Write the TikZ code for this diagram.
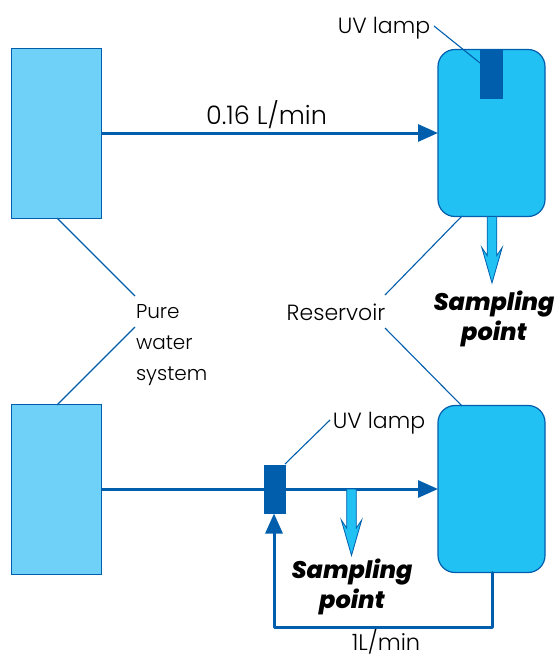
\documentclass[tikz,border=0pt]{standalone}
\usepackage{fontspec}
\setmainfont{Poppins Light}
\newfontfamily\boldf{Poppins}[BoldFont={Poppins ExtraBold},ItalicFont={Poppins Italic},BoldItalicFont={Poppins ExtraBold Italic}]
\usetikzlibrary{arrows.meta}
\definecolor{dk}{HTML}{005EAD}
\definecolor{tank}{HTML}{21C1F3}
\definecolor{src}{HTML}{6FD0F8}
\tikzset{
 srcbox/.style={draw=dk,line width=0.8pt,fill=src,minimum width=90pt,minimum height=170pt,inner sep=0,outer sep=0,rectangle},
 tankbox/.style={draw=dk,line width=1.2pt,fill=tank,rounded corners=17pt,minimum width=107pt,minimum height=167pt,inner sep=0,outer sep=0,rectangle},
 lamp/.style={fill=dk,inner sep=0,outer sep=0,rectangle},
 flow/.style={draw=dk,line width=3pt,-{Triangle[length=20pt,width=17pt,fill=dk]}},
 pipe/.style={draw=dk,line width=3pt},
 leader/.style={draw=dk,line width=1.1pt},
 lbl/.style={font=\fontsize{22}{30}\selectfont,text=black,inner sep=0,outer sep=0},
 samp/.style={font=\boldf\fontsize{24}{30}\selectfont\bfseries\itshape,align=center,inner sep=0,outer sep=0},
 sarrow/.style={draw=dk,line width=0.8pt,fill=tank},
}
\begin{document}
\begin{tikzpicture}[x=1pt,y=-1pt]
\useasboundingbox (0,0) rectangle (557,658);
\node[srcbox] (s1) at (56,133) {};
\node[srcbox] (s2) at (56,489.5) {};
\node[tankbox] (t1) at (491.5,133) {};
\node[tankbox] (t2) at (491.5,489) {};
\node[lamp,minimum width=23pt,minimum height=50pt] (l1) at (491.5,74.5) {};
\node[lamp,minimum width=22pt,minimum height=49pt] (l2) at (275,489) {};
\node[lbl] (uv1) at (384,28) {UV lamp};
\node[lbl] (uv2) at (379,423) {UV lamp};
\node[lbl,font=\fontsize{25.5}{30}\selectfont] (rate1) at (266.5,115) {0.16 L/min};
\node[lbl,font=\fontsize{22.5}{30}\selectfont] (rate2) at (386,642) {1L/min};
\node[lbl,align=left,anchor=north west,font=\fontsize{20}{31}\selectfont] (pws) at (136,305) {Pure\\water\\system};
\node[lbl] (res) at (336,312) {Reservoir};
\node[samp] (sp1) at (494,319) {Sampling\\point};
\node[samp] (sp2) at (352,587) {Sampling\\point};
% flows
\draw[flow] (s1.east |- t1.west) -- (t1.west);
\draw[pipe] (s2.east |- l2.west) -- (l2.west);
\draw[flow] (l2.east) -- (t2.west);
\coordinate (retA) at (492,627);
\coordinate (retB) at (274,627);
\draw[flow,line cap=round,line join=round] (t2.south -| retA) -- (retA) -- (retB) -- (l2.south -| retB);
% sampling arrows
\coordinate (a1) at (492,216.5);
\coordinate (a2) at (351.5,489);
\foreach \c in {a1,a2}{
 \draw[sarrow,line join=miter] ([xshift=-4.8pt]\c) -- ++(0,39) -- ++(-5.4,-8) -- ++(10.2,35.5) -- ++(10.2,-35.5) -- ++(-5.4,8) -- ([xshift=4.8pt]\c) -- cycle;
}
% leaders
\coordinate (p1) at (57,218);\coordinate (p2) at (135,296);
\coordinate (p3) at (57,405);\coordinate (p4) at (135,327);
\coordinate (p5) at (462,216);\coordinate (p6) at (385,295);
\coordinate (p7) at (385,328);\coordinate (p8) at (462,406);
\coordinate (p9) at (434,26);\coordinate (p10) at (480,63);
\coordinate (p11) at (330,420);\coordinate (p12) at (285,464);
\draw[leader] (p1)--(p2);\draw[leader] (p3)--(p4);
\draw[leader] (p5)--(p6);\draw[leader] (p7)--(p8);
\draw[leader] (p9)--(p10);\draw[leader] (p11)--(p12);
\end{tikzpicture}
\end{document}
